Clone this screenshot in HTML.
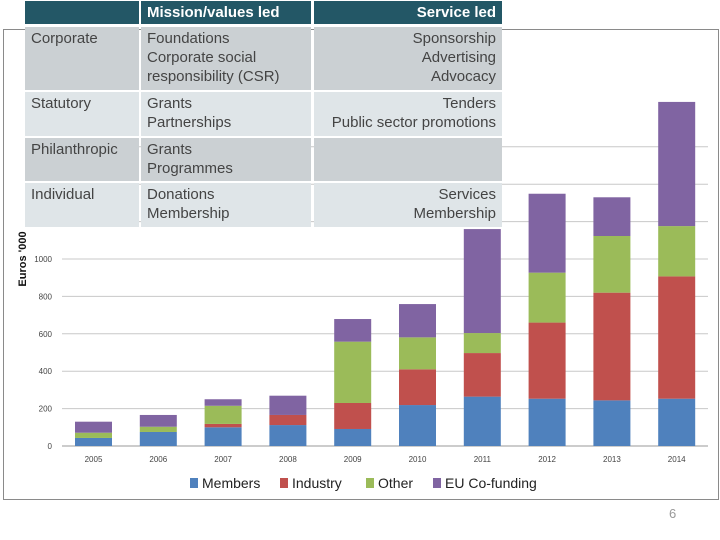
<!DOCTYPE html>
<html><head><meta charset="utf-8"><style>
body{margin:0;width:720px;height:540px;background:#fff;position:relative;overflow:hidden;font-family:"Liberation Sans",sans-serif}
#frame{position:absolute;left:3px;top:29px;width:716px;height:471px;border:1px solid #8a8a8a;box-sizing:border-box}
.c{position:absolute;box-sizing:border-box;padding:2px 6px 0 6px;font-size:15px;line-height:19px;color:#444;white-space:nowrap;overflow:hidden}
.h{background:#235766;color:#fff;font-weight:bold;line-height:23px;padding-top:0}
.a{background:#cbd0d3}.b{background:#dfe5e8}
.r{text-align:right}
</style></head><body>
<div id="frame"></div>
<svg id="chart" width="720" height="540" style="position:absolute;left:0;top:0"></svg>
<div>
<div class="c h" style="left:25px;top:1px;width:114px;height:23px"></div>
<div class="c h" style="left:141px;top:1px;width:170px;height:23px">Mission/values led</div>
<div class="c h r" style="left:314px;top:1px;width:188px;height:23px">Service led</div>

<div class="c a" style="left:25px;top:27px;width:114px;height:63px">Corporate</div>
<div class="c a" style="left:141px;top:27px;width:170px;height:63px">Foundations<br>Corporate social<br>responsibility (CSR)</div>
<div class="c a r" style="left:314px;top:27px;width:188px;height:63px">Sponsorship<br>Advertising<br>Advocacy</div>

<div class="c b" style="left:25px;top:92px;width:114px;height:44px">Statutory</div>
<div class="c b" style="left:141px;top:92px;width:170px;height:44px">Grants<br>Partnerships</div>
<div class="c b r" style="left:314px;top:92px;width:188px;height:44px">Tenders<br>Public sector promotions</div>

<div class="c a" style="left:25px;top:138px;width:114px;height:43px">Philanthropic</div>
<div class="c a" style="left:141px;top:138px;width:170px;height:43px">Grants<br>Programmes</div>
<div class="c a r" style="left:314px;top:138px;width:188px;height:43px"></div>

<div class="c b" style="left:25px;top:183px;width:114px;height:44px">Individual</div>
<div class="c b" style="left:141px;top:183px;width:170px;height:44px">Donations<br>Membership</div>
<div class="c b r" style="left:314px;top:183px;width:188px;height:44px">Services<br>Membership</div>
</div>
<div style="position:absolute;left:669px;top:506px;font-size:13px;color:#999">6</div>
<script>
const years=['2005','2006','2007','2008','2009','2010','2011','2012','2013','2014'];
const members=[43,75,100,112,91,219,264,253,244,253];
const industry=[0,0,18,54,139,191,233,407,576,654];
const other=[28,28,97,0,328,171,107,267,303,269];
const eu=[59,63,35,103,121,178,556,422,207,664];
const ticks=[0,200,400,600,800,1000,1200,1400,1600];
const tickLabels=['0','200','400','600','800','1000','','',''];
const series=[['Members',members,'#4f81bd'],['Industry',industry,'#c0504d'],['Other',other,'#9bbb59'],['EU Co-funding',eu,'#8064a2']];
const svg=document.getElementById('chart');const NS='http://www.w3.org/2000/svg';
const y=v=>446-v*0.187;const x=i=>75+i*64.8;const bw=37;
function mk(t,a){const e=document.createElementNS(NS,t);for(const k in a)e.setAttribute(k,a[k]);svg.appendChild(e);return e;}
ticks.forEach((t,i)=>{const l=mk('line',{x1:62,x2:708,y1:y(t),y2:y(t),stroke:i==0?'#999':'#c8c8c8','stroke-width':1});


if(tickLabels[i]){const tx=mk('text',{x:52,y:y(t)+3,'font-size':8,'text-anchor':'end',fill:'#444'});tx.textContent=tickLabels[i];

}});
years.forEach((yr,i)=>{let base=0;series.forEach(s=>{const v=s[1][i];if(v>0){const r=mk('rect',{x:x(i),y:y(base+v),width:bw,height:v*0.187,fill:s[2]});

}base+=v;});
const t=mk('text',{x:x(i)+bw/2,y:462,'font-size':8,'text-anchor':'middle',fill:'#444'});t.textContent=yr;

});
const yt=mk('text',{x:0,y:0,transform:'translate(26,259) rotate(-90)','font-size':11,'font-weight':'bold','text-anchor':'middle',fill:'#111'});yt.textContent="Euros '000";


const lx=[190,280,366,433];
series.forEach((s,i)=>{const r=mk('rect',{x:lx[i],y:478,width:8,height:10,fill:s[2]});


const t=mk('text',{x:lx[i]+12,y:488,'font-size':14,fill:'#222'});t.textContent=s[0];

});
</script>
</body></html>
